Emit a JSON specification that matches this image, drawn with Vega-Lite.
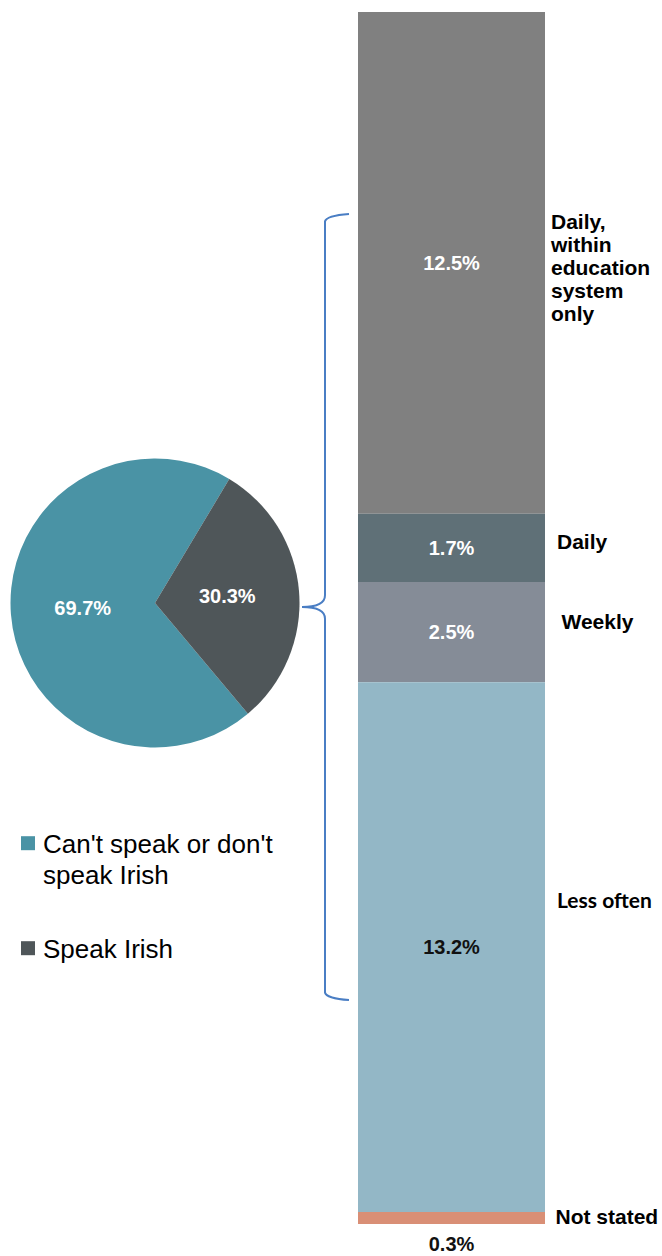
{
  "$schema": "https://vega.github.io/schema/vega-lite/v6.json",
  "padding": {"top": 12, "left": 0, "right": 0, "bottom": 0},
  "spacing": 48,
  "bounds": "flush",
  "config": {"view": {"stroke": null}, "font": "Liberation Sans"},
  "resolve": {"scale": {"color": "independent", "x": "independent", "y": "independent"}, "legend": {"color": "independent"}},
  "hconcat": [
    {
      "width": 310,
      "height": 1182,
      "data": {"values": [
        {"category": "Can't speak or don't speak Irish", "share": 0.697, "rank": 1},
        {"category": "Speak Irish", "share": 0.303, "rank": 2}
      ]},
      "layer": [
        {
          "mark": {"type": "arc", "outerRadius": 144.5},
          "encoding": {
            "theta": {"field": "share", "type": "quantitative", "stack": true, "scale": {"range": [2.4435, 8.7267]}},
            "order": {"field": "rank", "type": "quantitative"},
            "color": {
              "field": "category", "type": "nominal",
              "scale": {"domain": ["Can't speak or don't speak Irish", "Speak Irish"], "range": ["#4A93A5", "#4F5659"]},
              "legend": {
                "title": null, "orient": "none", "legendX": 15, "legendY": 807,
                "symbolType": "M -1 0.6 H 1 V 2.6 H -1 Z", "symbolSize": 196, "symbolStrokeWidth": 0, "symbolOpacity": 1,
                "labelFontSize": 26, "labelFont": "Liberation Sans", "labelColor": "#000000", "labelBaseline": "top",
                "labelOffset": 2, "labelLimit": 400, "rowPadding": 35,
                "labelExpr": "datum.label == \"Can't speak or don't speak Irish\" ? [\"Can't speak or don't\", \"speak Irish\"] : datum.label",
                "encode": {"labels": {"update": {"lineHeight": {"value": 31}}}}
              }
            }
          }
        },
        {
          "mark": {"type": "text", "radius": 72.5, "fontSize": 20, "fontWeight": "bold", "fill": "#ffffff"},
          "encoding": {
            "theta": {"field": "share", "type": "quantitative", "stack": true},
            "order": {"field": "rank", "type": "quantitative"},
            "detail": {"field": "category", "type": "nominal"},
            "text": {"field": "share", "type": "quantitative", "format": ".1%"}
          }
        }
      ]
    },
    {
      "width": 187,
      "height": 1212,
      "data": {"values": [
        {"group": "Speak Irish", "category": "Daily, within education system only", "share": 0.125, "rank": 5},
        {"group": "Speak Irish", "category": "Daily", "share": 0.017, "rank": 4},
        {"group": "Speak Irish", "category": "Weekly", "share": 0.025, "rank": 3},
        {"group": "Speak Irish", "category": "Less often", "share": 0.132, "rank": 2},
        {"group": "Speak Irish", "category": "Not stated", "share": 0.003, "rank": 1}
      ]},
      "layer": [
        {
          "mark": {"type": "bar"},
          "encoding": {
            "x": {"field": "group", "type": "nominal", "axis": null, "scale": {"paddingInner": 0, "paddingOuter": 0}},
            "y": {"field": "share", "type": "quantitative", "stack": "zero", "axis": null, "scale": {"domain": [0, 0.302], "nice": false}},
            "order": {"field": "rank", "type": "quantitative"},
            "color": {
              "field": "category", "type": "nominal", "legend": null,
              "scale": {
                "domain": ["Daily, within education system only", "Daily", "Weekly", "Less often", "Not stated"],
                "range": ["#808080", "#5F7077", "#858C97", "#93B7C6", "#D98F76"]
              }
            }
          }
        },
        {
          "transform": [
            {"stack": "share", "groupby": ["group"], "sort": [{"field": "rank", "order": "ascending"}], "as": ["y0", "y1"]},
            {"fold": ["y0", "y1"], "as": ["edge", "pos"]},
            {"aggregate": [{"op": "mean", "field": "pos", "as": "mid"}], "groupby": ["group", "category", "share", "rank"]}
          ],
          "encoding": {
            "x": {"field": "group", "type": "nominal", "axis": null},
            "y": {"field": "mid", "type": "quantitative", "axis": null, "scale": {"domain": [0, 0.302], "nice": false}}
          },
          "layer": [
            {
              "transform": [{"filter": "datum.rank >= 3"}],
              "mark": {"type": "text", "fontSize": 20, "fontWeight": "bold", "fill": "#ffffff", "dy": 1},
              "encoding": {"text": {"field": "share", "type": "quantitative", "format": ".1%"}}
            },
            {
              "transform": [{"filter": "datum.rank == 2"}],
              "mark": {"type": "text", "fontSize": 20, "fontWeight": "bold", "fill": "#111111", "dy": 1},
              "encoding": {"text": {"field": "share", "type": "quantitative", "format": ".1%"}}
            },
            {
              "transform": [{"filter": "datum.rank == 1"}],
              "mark": {"type": "text", "fontSize": 20, "fontWeight": "bold", "fill": "#111111", "dy": 27},
              "encoding": {"text": {"field": "share", "type": "quantitative", "format": ".1%"}}
            },
            {
              "transform": [{"filter": "datum.rank == 5"}],
              "mark": {"type": "text", "align": "left", "dx": 99.5, "dy": -40, "fontSize": 21, "fontWeight": "bold", "fill": "#000000", "lineBreak": " ", "lineHeight": 23},
              "encoding": {"text": {"field": "category", "type": "nominal"}}
            },
            {
              "transform": [{"filter": "datum.rank == 4"}],
              "mark": {"type": "text", "align": "left", "dx": 105.5, "dy": -4.5, "fontSize": 21, "fontWeight": "bold", "fill": "#000000"},
              "encoding": {"text": {"field": "category", "type": "nominal"}}
            },
            {
              "transform": [{"filter": "datum.rank == 3"}],
              "mark": {"type": "text", "align": "left", "dx": 110, "dy": -9.5, "fontSize": 21, "fontWeight": "bold", "fill": "#000000"},
              "encoding": {"text": {"field": "category", "type": "nominal"}}
            },
            {
              "transform": [{"filter": "datum.rank == 2"}],
              "mark": {"type": "text", "align": "left", "dx": 105.5, "dy": -45, "font": "Lato", "fontSize": 21, "fontWeight": "bold", "fill": "#000000"},
              "encoding": {"text": {"field": "category", "type": "nominal"}}
            },
            {
              "transform": [{"filter": "datum.rank == 1"}],
              "mark": {"type": "text", "align": "left", "dx": 104, "dy": 0.5, "fontSize": 21, "fontWeight": "bold", "fill": "#000000"},
              "encoding": {"text": {"field": "category", "type": "nominal"}}
            }
          ]
        },
        {
          "data": {"values": [{"note": "brace"}]},
          "mark": {
            "type": "point",
            "shape": "M 0.0613 -1.004 Q 0.004 -1 0 -0.985 L 0 -0.03 Q 0 0 -0.0587 0 Q 0 0 0 0.03 L 0 0.985 Q 0.004 1 0.0613 1.004",
            "size": 613089,
            "filled": false,
            "fill": null,
            "stroke": "#4A7EC4",
            "strokeWidth": 2,
            "opacity": 1
          },
          "encoding": {
            "x": {"value": -33},
            "y": {"datum": 0.15374, "type": "quantitative", "scale": {"domain": [0, 0.302], "nice": false}}
          }
        }
      ]
    }
  ]
}
